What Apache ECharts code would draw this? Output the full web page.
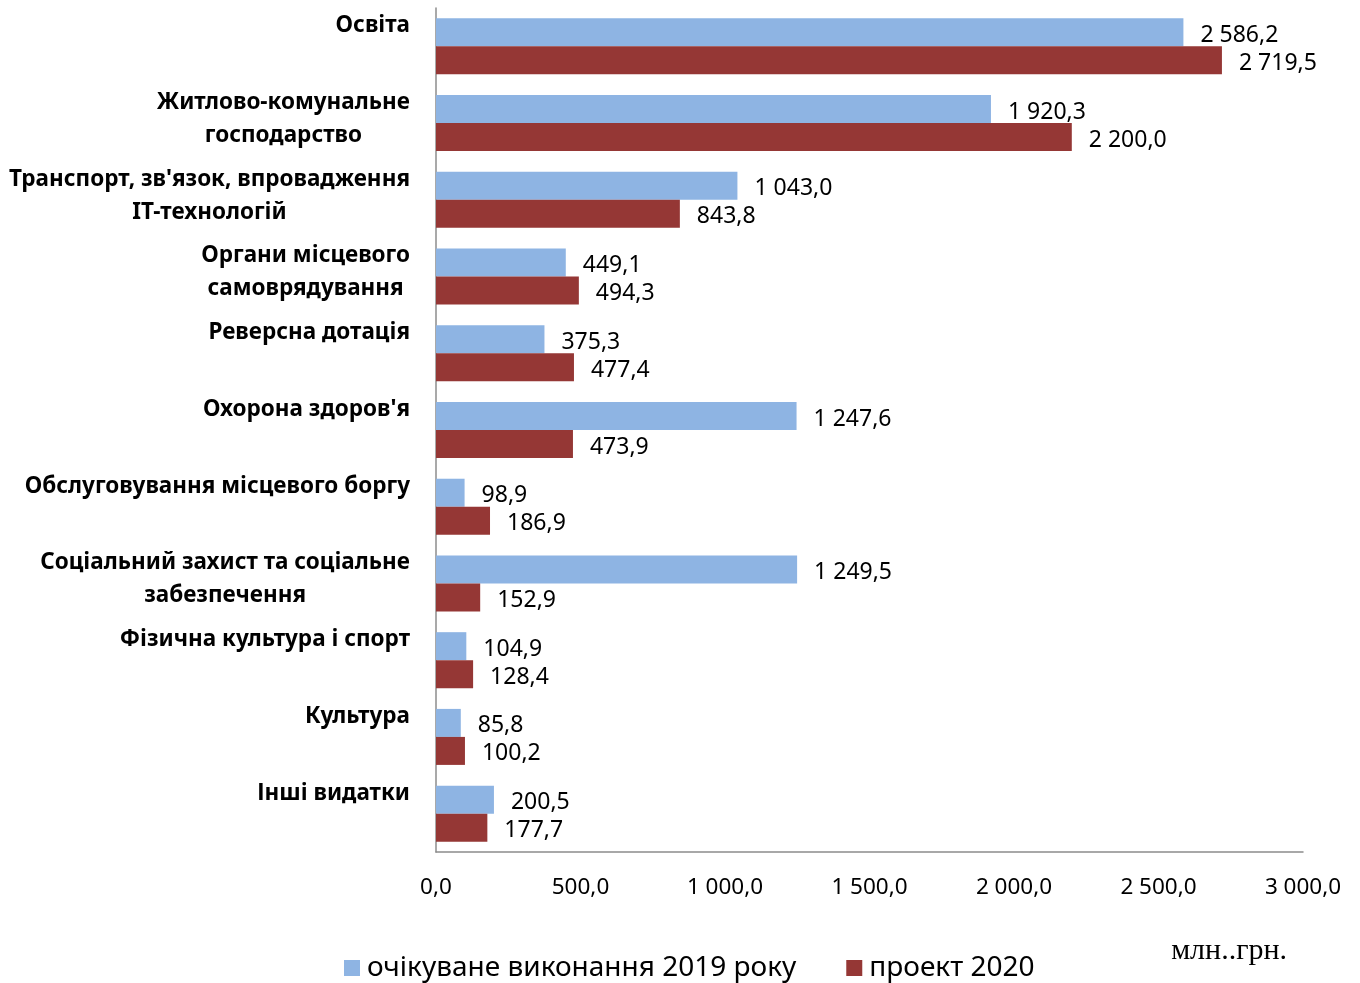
<!DOCTYPE html>
<html><head><meta charset="utf-8">
<script src="https://cdn.jsdelivr.net/npm/echarts@6/dist/echarts.min.js"></script>
<style>html,body{margin:0;padding:0;background:#fff}#c{width:1360px;height:983px}</style>
</head><body><div id="c"></div>
<script>
const categories = [
  "Освіта",
  "Житлово-комунальне\nгосподарство",
  "Транспорт, зв'язок, впровадження\nIT-технологій",
  "Органи місцевого\nсамоврядування",
  "Реверсна дотація",
  "Охорона здоров'я",
  "Обслуговування місцевого боргу",
  "Соціальний захист та соціальне\nзабезпечення",
  "Фізична культура і спорт",
  "Культура",
  "Інші видатки"
];
const expected2019 = [2586.2, 1920.3, 1043.0, 449.1, 375.3, 1247.6, 98.9, 1249.5, 104.9, 85.8, 200.5];
const project2020 = [2719.5, 2200.0, 843.8, 494.3, 477.4, 473.9, 186.9, 152.9, 128.4, 100.2, 177.7];
const seriesNames = ["очікуване виконання 2019 року", "проект 2020"];
const unitLabel = "млн..грн.";
const xTicks = {min: 0, max: 3000, interval: 500};

function fmt(v) {
  const s = Number(v).toFixed(1).split('.');
  const int = s[0].replace(/\B(?=(\d{3})+(?!\d))/g, ' ');
  return int + ',' + s[1];
}

const chart = echarts.init(document.getElementById('c'));
const font = "'Noto Sans', sans-serif";
const valLabel = {show: true, position: 'right', distance: 17, offset: [0, 3], formatter: p => fmt(p.value), fontFamily: font, fontSize: 23, color: '#000'};
chart.setOption({
  animation: false,
  backgroundColor: '#fff',
  grid: {left: 436, right: 57, top: 8, bottom: 131, containLabel: false},
  legend: {
    data: seriesNames,
    left: 339, bottom: -4,
    icon: 'rect', itemWidth: 16, itemHeight: 16, itemGap: 50,
    textStyle: {fontFamily: font, fontSize: 28, color: '#000', padding: [0,0,0,2]}
  },
  title: {
    text: unitLabel, right: 68, bottom: 12,
    textStyle: {fontFamily: "'Liberation Serif', serif", fontSize: 30, fontWeight: 'normal', color: '#000'}
  },
  xAxis: {
    type: 'value', min: xTicks.min, max: xTicks.max, interval: xTicks.interval,
    axisLine: {show: true, lineStyle: {color: '#8c8c8c', width: 1.5}},
    axisTick: {show: false},
    splitLine: {show: false},
    axisLabel: {formatter: fmt, margin: 24, fontFamily: font, fontSize: 22.5, color: '#000'}
  },
  yAxis: {
    type: 'category', data: categories, inverse: true,
    axisLine: {show: true, lineStyle: {color: '#8c8c8c', width: 1.5}},
    axisTick: {show: false},
    axisLabel: {
      margin: 26, align: 'right', verticalAlign: 'top', padding: [-37, 0, 0, 0],
      formatter: v => v.split('\n').map(l => '{c|' + l + '}').join('\n'),
      rich: {c: {align: 'center', fontFamily: font, fontSize: 22.5, fontWeight: 'bold', color: '#000', lineHeight: 33}}
    }
  },
  series: [
    {name: seriesNames[0], type: 'bar', data: expected2019, barWidth: 28, barGap: '0%',
     itemStyle: {color: '#8EB4E3'}, label: valLabel},
    {name: seriesNames[1], type: 'bar', data: project2020, barWidth: 28, barGap: '0%',
     itemStyle: {color: '#953735'}, label: valLabel}
  ]
});
</script></body></html>
